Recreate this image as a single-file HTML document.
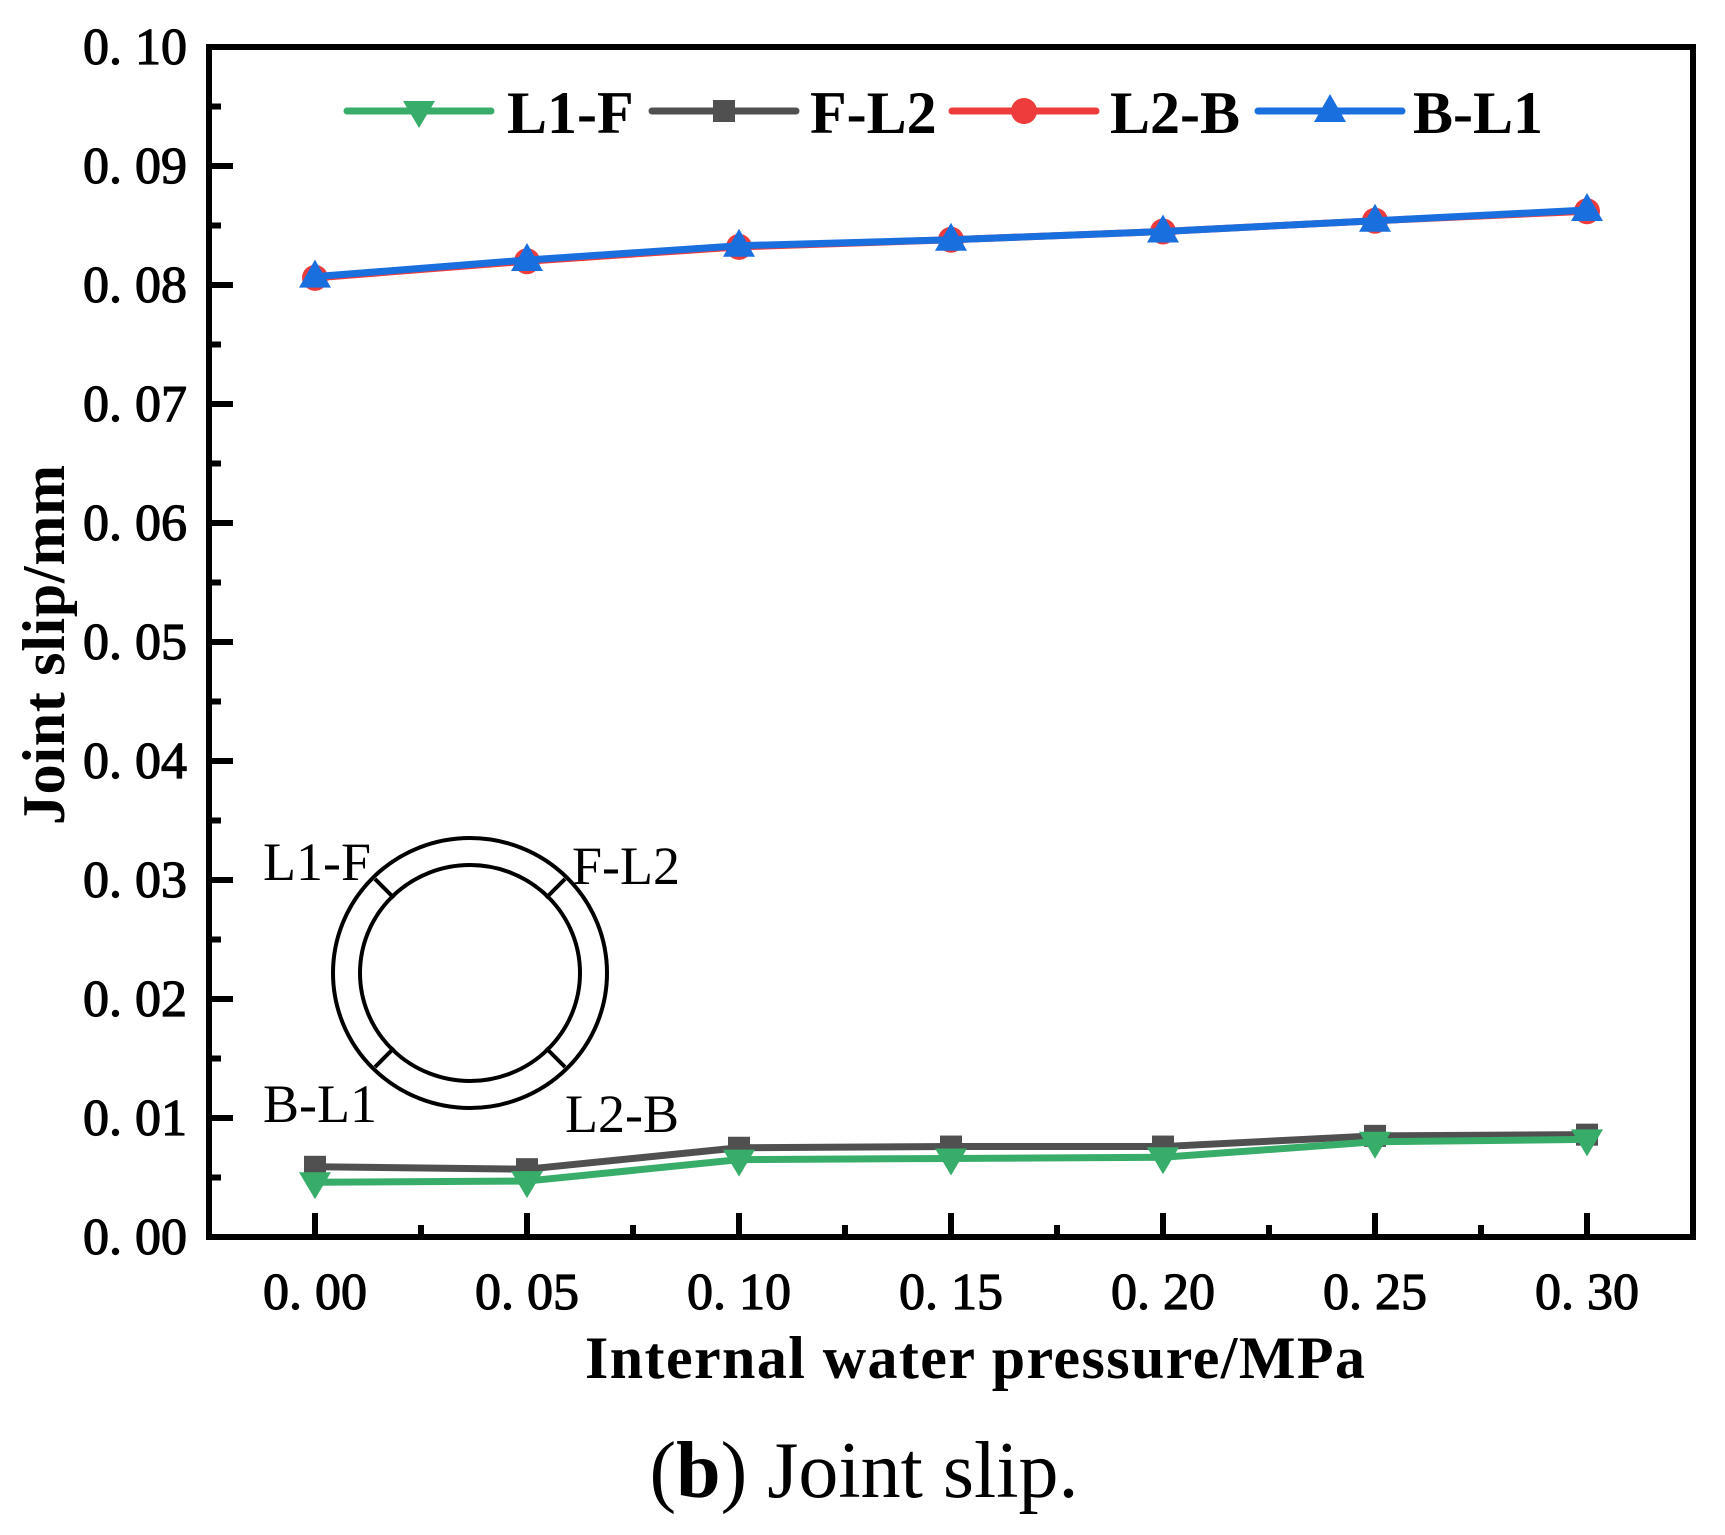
<!DOCTYPE html>
<html><head><meta charset="utf-8"><style>
html,body{margin:0;padding:0;background:#fff}
svg text{font-family:"Liberation Serif",serif}
</style></head><body>
<svg id="chart" width="1725" height="1530" viewBox="0 0 1725 1530" xmlns="http://www.w3.org/2000/svg">
<g id="marks"></g>
<g fill="none" stroke="#000" stroke-width="4">
<ellipse cx="470" cy="973" rx="137" ry="135"/>
<ellipse cx="470" cy="973" rx="110" ry="108"/>
<line x1="375" y1="879" x2="394" y2="898"/><line x1="565" y1="879" x2="546" y2="898"/>
<line x1="375" y1="1067" x2="394" y2="1048"/><line x1="565" y1="1067" x2="546" y2="1048"/>
</g>
<g font-size="54" fill="#000">
<text x="263" y="880">L1-F</text>
<text x="572" y="884">F-L2</text>
<text x="263" y="1122">B-L1</text>
<text x="565" y="1132">L2-B</text>
</g>
<text x="975" y="1378" font-size="60" font-weight="bold" text-anchor="middle" textLength="780">Internal water pressure/MPa</text>
<text transform="translate(64,645) rotate(-90)" font-size="60" font-weight="bold" text-anchor="middle" textLength="360">Joint slip/mm</text>
<text x="864" y="1497" font-size="80" text-anchor="middle">(<tspan font-weight="bold">b</tspan>) Joint slip.</text>
</svg>
<script>
const categories=[0,0.05,0.10,0.15,0.20,0.25,0.30];
const xTickLabels=["0. 00","0. 05","0. 10","0. 15","0. 20","0. 25","0. 30"];
const yTicks=[0,0.01,0.02,0.03,0.04,0.05,0.06,0.07,0.08,0.09,0.10];
const yTickLabels=["0. 00","0. 01","0. 02","0. 03","0. 04","0. 05","0. 06","0. 07","0. 08","0. 09","0. 10"];
const seriesNames=["L1-F","F-L2","L2-B","B-L1"];
const l1f=[0.0046,0.0047,0.0065,0.0066,0.0067,0.0080,0.0082];
const fl2=[0.0059,0.0057,0.0075,0.0076,0.0076,0.0085,0.0086];
const l2b=[0.0806,0.0820,0.0832,0.0838,0.0845,0.0854,0.0862];
const bl1=[0.0807,0.0821,0.0833,0.0838,0.0845,0.0854,0.0863];

const NS="http://www.w3.org/2000/svg";
const L=209,R=1693,T=47,B=1237;
const x=v=>315+(v/0.05)*212;
const y=v=>B-(v/0.1)*(B-T);
const g=document.getElementById('marks');
function mk(tag,attrs){const e=document.createElementNS(NS,tag);for(const k in attrs)e.setAttribute(k,attrs[k]);g.appendChild(e);return e;}
let fr=mk('rect',{x:L,y:T,width:R-L,height:B-T,fill:'none',stroke:'#000','stroke-width':6});


yTicks.forEach((v,i)=>{
 let t=mk('line',{x1:L,x2:L+24,y1:y(v),y2:y(v),stroke:'#000','stroke-width':6});
 
 
 if(i<yTicks.length-1){let m=mk('line',{x1:L,x2:L+12,y1:y(v+0.005),y2:y(v+0.005),stroke:'#000','stroke-width':6});
 
 }
 let tx=mk('text',{x:L-22,y:y(v)+17,'text-anchor':'end','font-size':52,stroke:'#000','stroke-width':1.2});
 tx.textContent=yTickLabels[i];
 
 
});
categories.forEach((v,i)=>{
 let t=mk('line',{x1:x(v),x2:x(v),y1:B,y2:B-24,stroke:'#000','stroke-width':6});
 
 
 let tx=mk('text',{x:x(v),y:1309,'text-anchor':'middle','font-size':52,stroke:'#000','stroke-width':1.2});
 tx.textContent=xTickLabels[i];
 
 
});
[-0.025,0.025,0.075,0.125,0.175,0.225,0.275,0.325].forEach(v=>{
 if(x(v)>L&&x(v)<R){let m=mk('line',{x1:x(v),x2:x(v),y1:B,y2:B-12,stroke:'#000','stroke-width':6});
 
 }
});
function marker(type,cx,cy,color){
 let e;
 if(type==='down')e=mk('polygon',{points:`${cx-16},${cy-10} ${cx+16},${cy-10} ${cx},${cy+17}`,fill:color});
 else if(type==='up')e=mk('polygon',{points:`${cx-16},${cy+11} ${cx+16},${cy+11} ${cx},${cy-17}`,fill:color});
 else if(type==='square')e=mk('rect',{x:cx-11,y:cy-11,width:22,height:22,fill:color});
 else e=mk('circle',{cx:cx,cy:cy,r:13,fill:color});
 return e;
}
const series=[[l1f,'#38ad6a','down'],[fl2,'#505050','square'],[l2b,'#ee3b3b','circle'],[bl1,'#1a6fdf','up']];
const order=[1,0,2,3];
order.forEach(si=>{
 const [d,c,m]=series[si];
 let p=mk('polyline',{points:d.map((v,i)=>x(categories[i])+','+y(v)).join(' '),fill:'none',stroke:c,'stroke-width':7,'stroke-linejoin':'round'});
 
 
 d.forEach((v,i)=>{let e=marker(m,x(categories[i]),y(v),c);
 
 });
});
const legX=[347,652,952,1258],legText=[507,810,1110,1413];
series.forEach((s,i)=>{
 let ln=mk('line',{x1:legX[i],x2:legX[i]+144,y1:111,y2:111,stroke:s[1],'stroke-width':7,'stroke-linecap':'round'});
 
 
 let mm=marker(s[2],legX[i]+72,111,s[1]);
 
 
 let t=mk('text',{x:legText[i],y:133,'font-size':60,'font-weight':'bold'});
 t.textContent=seriesNames[i];
 
 
});
</script>
</body></html>
